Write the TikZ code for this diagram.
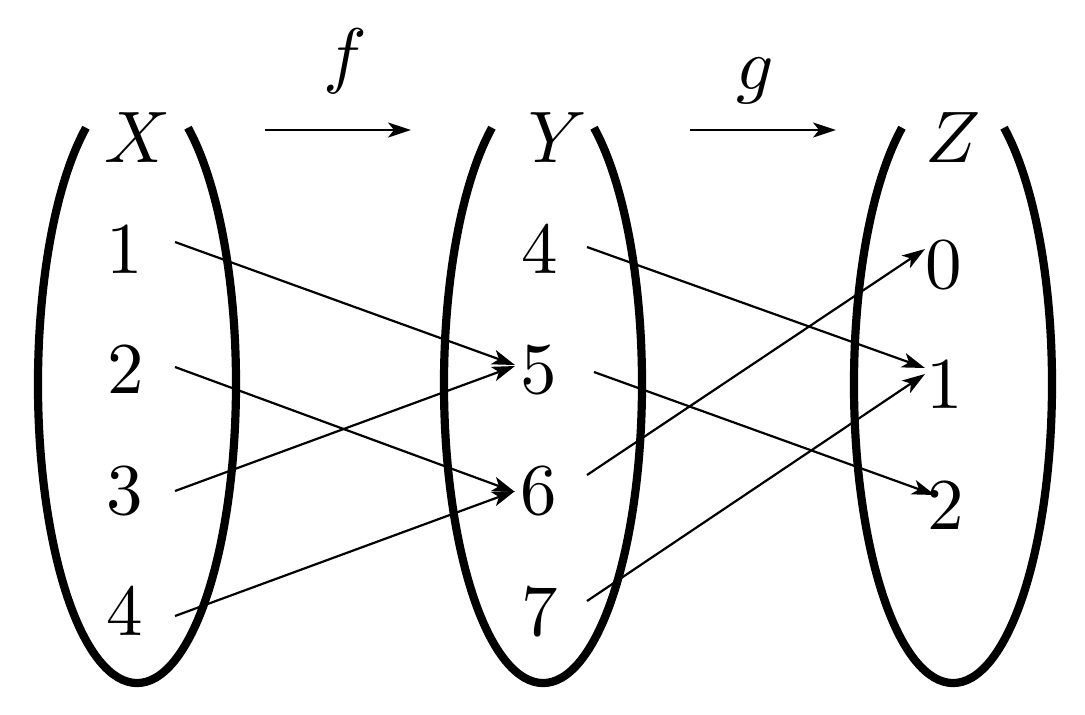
\documentclass[tikz,border=0pt]{standalone}
\usetikzlibrary{arrows.meta,calc}
\begin{document}
\begin{tikzpicture}[x=0.5pt,y=0.5pt,
  lbl/.style={scale=3.65,inner sep=0pt},
  setline/.style={line width=4.1pt},
  mapline/.style={line width=1.1pt,-{Stealth[length=11.5pt,width=7.5pt,inset=3pt]}}]
\useasboundingbox (0,0) rectangle (1085,-714);
% sets
\draw[setline] (86,-127.7) arc[start angle=121,end angle=419,x radius=49.5pt,y radius=149.5pt];
\draw[setline] (492,-127.7) arc[start angle=121,end angle=419,x radius=49.5pt,y radius=149.5pt];
\draw[setline] (902,-127.7) arc[start angle=121,end angle=419,x radius=49.5pt,y radius=149.5pt];
% set names
\node[lbl] (X) at (138,-138) {$X$};
\node[lbl] (Y) at (558,-138) {$Y$};
\node[lbl] (Z) at (953,-138) {$Z$};
% maps
\coordinate (f0) at (265,-130);
\coordinate (f1) at (411,-130);
\coordinate (g0) at (690,-130);
\coordinate (g1) at (836,-130);
\draw[mapline] (f0) -- (f1);
\draw[mapline] (g0) -- (g1);
\node[lbl,anchor=base] (f) at (345,-79) {$f$};
\node[lbl,anchor=base] (g) at (755,-89) {$g$};
% elements
\node[lbl] (x1) at (125,-250) {$1$};
\node[lbl] (x2) at (126,-370) {$2$};
\node[lbl] (x3) at (125,-491) {$3$};
\node[lbl] (x4) at (125,-612) {$4$};
\node[lbl] (y4) at (539.5,-250) {$4$};
\node[lbl] (y5) at (539,-370) {$5$};
\node[lbl] (y6) at (539,-491) {$6$};
\node[lbl] (y7) at (540,-612) {$7$};
\node[lbl] (z0) at (944,-265) {$0$};
\node[lbl] (z1) at (945,-385) {$1$};
\node[lbl] (z2) at (946,-506) {$2$};
% f arrows
\draw[mapline] ($(x1)+(50,8)$) -- ($(y5)+(-24,5)$);
\draw[mapline] ($(x2)+(49,3)$) -- ($(y6)+(-24,-1)$);
\draw[mapline] ($(x3)+(50,0)$) -- ($(y5)+(-24,4)$);
\draw[mapline] ($(x4)+(50,-4)$) -- ($(y6)+(-24,0)$);
% g arrows
\draw[mapline] ($(y4)+(47.5,3)$) -- ($(z1)+(-20,17)$);
\draw[mapline] ($(y5)+(55,-2)$) -- ($(z2)+(-11,11)$);
\draw[mapline] ($(y6)+(48,16)$) -- ($(z0)+(-19,16)$);
\draw[mapline] ($(y7)+(47,11)$) -- ($(z1)+(-20,11)$);
\end{tikzpicture}
\end{document}
